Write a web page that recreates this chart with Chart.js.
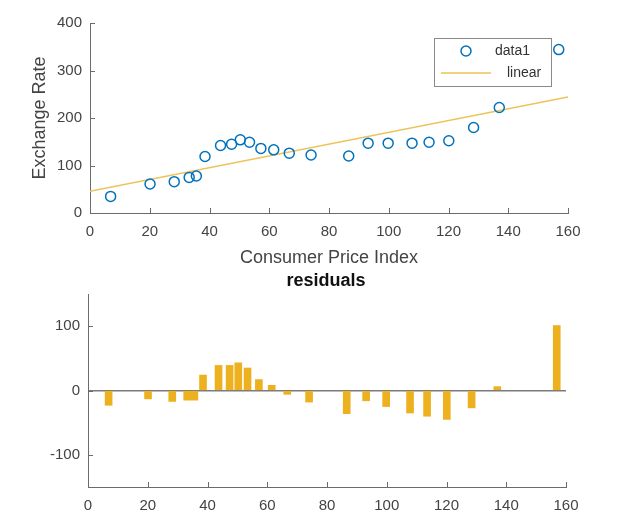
<!DOCTYPE html>
<html>
<head>
<meta charset="utf-8">
<script src="https://cdn.jsdelivr.net/npm/chart.js@4/dist/chart.umd.min.js"></script>
<style>
  body { margin: 0; background: #fff; }
  .box { position: absolute; left: 0; }
</style>
</head>
<body>
<div class="box" style="top:0;width:624px;height:270px"><canvas id="fitChart" width="624" height="270"></canvas></div>
<div class="box" style="top:270px;width:624px;height:253px"><canvas id="resChart" width="624" height="253"></canvas></div>
<script>
// values
let cpi = [6.9, 20.1, 28.2, 33.2, 35.6, 38.5, 43.7, 47.4, 50.3, 53.4, 57.2, 61.5, 66.7, 74.0, 86.6, 93.1, 99.8, 107.8, 113.5, 120.1, 128.4, 137.0, 156.9];
let rate = [35, 61, 66, 75, 78, 119, 142, 145, 154, 149, 136, 133, 126, 122, 120, 147, 147, 147, 149, 152, 180, 222, 344];
let residuals = [-23, -13, -17, -15, -15, 24, 39, 39, 43, 35, 17, 8, -6, -18, -36, -16, -25, -35, -40, -45, -27, 6, 101];
let fitX = [0, 160];
let fitY = [46, 244];
let xTicks = [0, 20, 40, 60, 80, 100, 120, 140, 160];
let rateTicks = [0, 100, 200, 300, 400];
let resTicks = [-100, 0, 100];

const FONT = "'Liberation Sans', Arial, sans-serif";
const TXT = '#444';
const AXIS = '#6b6b6b';
const BLUE = '#0072BD';
const GOLD = '#EDB120';

// matlab style ticks pointing into the axes
const innerTicks = {
  id: 'innerTicks',
  afterDraw(chart) {
    const ctx = chart.ctx;
    const x = chart.scales.x, y = chart.scales.y;
    ctx.save();
    ctx.strokeStyle = AXIS;
    ctx.lineWidth = 1;
    ctx.beginPath();
    x.ticks.forEach(t => {
      const px = Math.round(x.getPixelForValue(t.value)) + 0.5;
      ctx.moveTo(px, y.bottom);
      ctx.lineTo(px, y.bottom - 5);
    });
    y.ticks.forEach(t => {
      const py = Math.round(y.getPixelForValue(t.value)) + 0.5;
      ctx.moveTo(x.left, py);
      ctx.lineTo(x.left + 5, py);
    });
    ctx.stroke();
    ctx.restore();
  }
};

const legendBox = {
  id: 'legendBox',
  afterDraw(chart) {
    const ctx = chart.ctx;
    ctx.save();
    ctx.fillStyle = '#fff';
    ctx.fillRect(434.5, 38.5, 117, 48);
    ctx.strokeStyle = '#8a8a8a';
    ctx.lineWidth = 1;
    ctx.strokeRect(434.5, 38.5, 117, 48);
    ctx.strokeStyle = BLUE;
    ctx.lineWidth = 1.5;
    ctx.beginPath();
    ctx.arc(466, 51, 5, 0, Math.PI * 2);
    ctx.stroke();
    ctx.strokeStyle = '#EDC35A';
    ctx.lineWidth = 1.5;
    ctx.beginPath();
    ctx.moveTo(441, 73);
    ctx.lineTo(491, 73);
    ctx.stroke();
    ctx.fillStyle = '#333';
    ctx.font = '14px ' + FONT;
    ctx.textBaseline = 'middle';
    ctx.fillText('data1', 495, 51);
    ctx.fillText('linear', 507, 73);
    ctx.restore();
  }
};

const resTitle = {
  id: 'resTitle',
  afterDraw(chart) {
    const ctx = chart.ctx;
    ctx.save();
    ctx.fillStyle = '#111';
    ctx.font = 'bold 18px ' + FONT;
    ctx.textAlign = 'center';
    ctx.textBaseline = 'middle';
    ctx.fillText('residuals', 326, 11);
    ctx.restore();
  }
};

const tickFont = { family: FONT, size: 15 };
const titleFont = { family: FONT, size: 18 };

let fitCtx = document.getElementById('fitChart').getContext('2d');
new Chart(fitCtx, {
  type: 'scatter',
  data: {
    datasets: [{
      label: 'data1',
      data: cpi.map((c, i) => ({ x: c, y: rate[i] })),
      borderColor: BLUE,
      backgroundColor: 'rgba(0,0,0,0)',
      borderWidth: 1.5,
      pointRadius: 5,
      showLine: false
    }, {
      label: 'linear',
      type: 'line',
      data: fitX.map((c, i) => ({ x: c, y: fitY[i] })),
      borderColor: '#EDC35A',
      borderWidth: 1.5,
      pointRadius: 0,
      fill: false
    }]
  },
  options: {
    responsive: false,
    animation: false,
    devicePixelRatio: 1,
    layout: { padding: { left: 0, right: 56, top: 23, bottom: 0 } },
    plugins: { legend: { display: false }, tooltip: { enabled: false } },
    scales: {
      x: {
        type: 'linear', min: 0, max: 160,
        afterBuildTicks: s => { s.ticks = xTicks.map(v => ({ value: v })); },
        afterFit: s => { s.height = 57; },
        grid: { display: false, drawTicks: false },
        border: { display: true, color: AXIS },
        ticks: { color: TXT, font: tickFont, padding: 10, maxRotation: 0 },
        title: { display: true, text: 'Consumer Price Index', color: TXT, font: titleFont, padding: { top: 0, bottom: 1.5 } }
      },
      y: {
        min: 0, max: 400,
        afterBuildTicks: s => { s.ticks = rateTicks.map(v => ({ value: v })); },
        afterFit: s => { s.width = 90; },
        grid: { display: false, drawTicks: false },
        border: { display: true, color: AXIS },
        ticks: { color: TXT, font: tickFont, padding: 8 },
        title: { display: true, text: 'Exchange Rate', color: TXT, font: titleFont, padding: { top: 29, bottom: 0 } }
      }
    }
  },
  plugins: [innerTicks, legendBox]
});

let resCtx = document.getElementById('resChart').getContext('2d');
new Chart(resCtx, {
  type: 'bar',
  data: {
    datasets: [{
      label: 'residuals',
      data: cpi.map((c, i) => ({ x: c, y: residuals[i] })),
      backgroundColor: GOLD,
      borderWidth: 0,
      barThickness: 7
    }]
  },
  options: {
    responsive: false,
    animation: false,
    devicePixelRatio: 1,
    layout: { padding: { left: 0, right: 58, top: 24, bottom: 0 } },
    plugins: { legend: { display: false }, tooltip: { enabled: false } },
    scales: {
      x: {
        type: 'linear', min: 0, max: 160, offset: false,
        afterBuildTicks: s => { s.ticks = xTicks.map(v => ({ value: v })); },
        afterFit: s => { s.height = 36; },
        grid: { display: false, drawTicks: false, offset: false },
        border: { display: true, color: AXIS },
        ticks: { color: TXT, font: tickFont, padding: 10, maxRotation: 0 }
      },
      y: {
        min: -150, max: 150,
        afterBuildTicks: s => { s.ticks = resTicks.map(v => ({ value: v })); },
        afterFit: s => { s.width = 88; },
        grid: {
          drawTicks: false,
          color: c => (c.tick && c.tick.value === 0) ? '#7a7a7a' : 'rgba(0,0,0,0)',
          lineWidth: 1.5
        },
        border: { display: true, color: AXIS },
        ticks: { color: TXT, font: tickFont, padding: 8 }
      }
    }
  },
  plugins: [innerTicks, resTitle]
});
</script>
</body>
</html>
